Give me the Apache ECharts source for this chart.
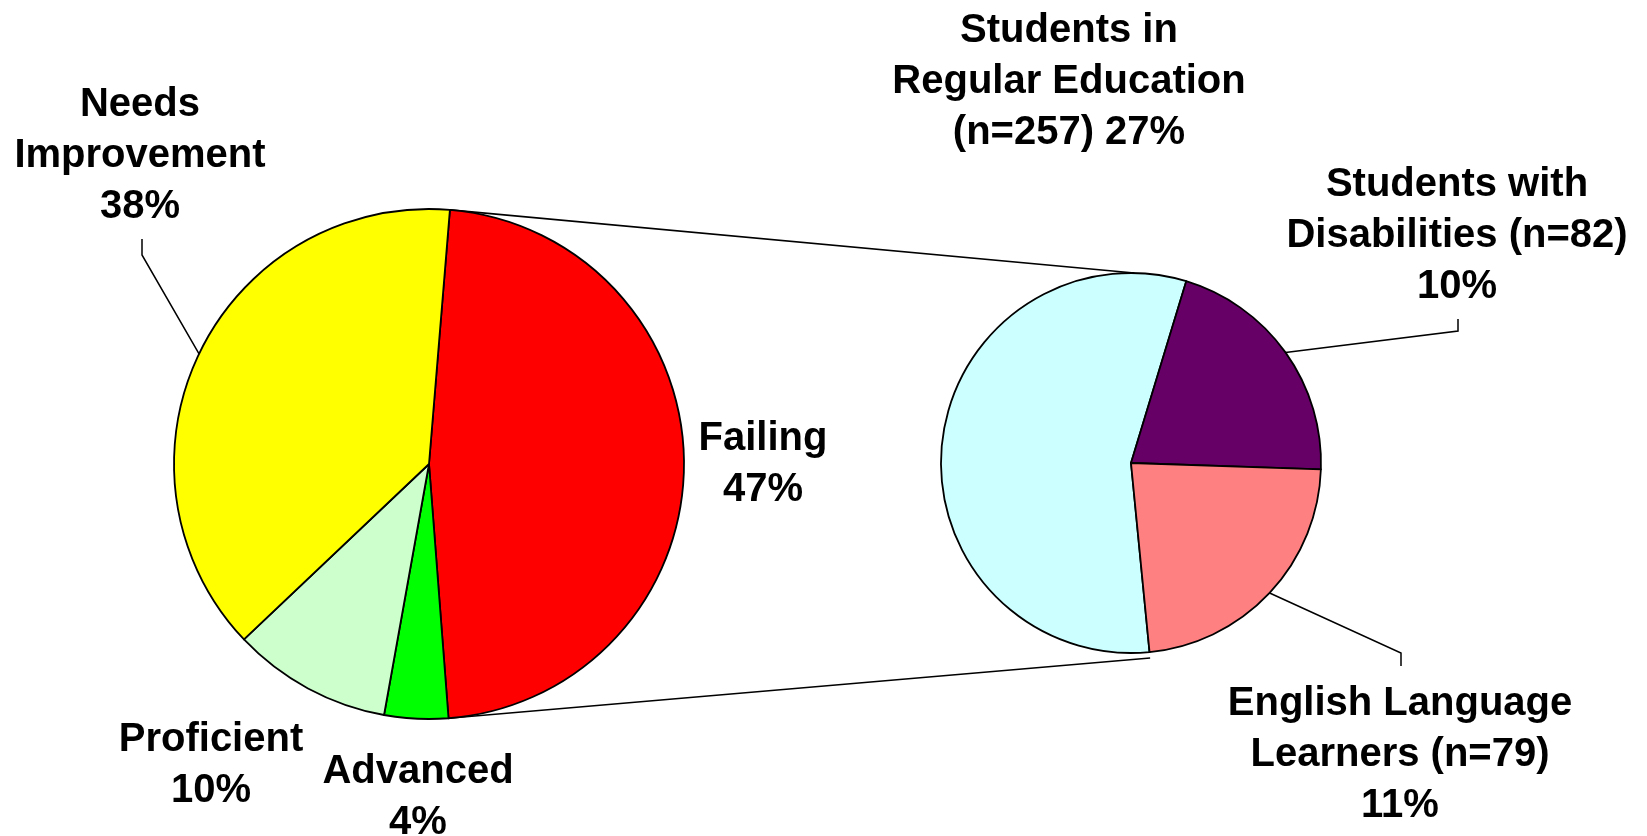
<!DOCTYPE html>
<html>
<head>
<meta charset="utf-8">
<title>Pie of pie</title>
<script src="https://cdn.jsdelivr.net/npm/echarts@6/dist/echarts.min.js"></script>
<style>
  html, body { margin: 0; padding: 0; background: #fff; }
  #main { width: 1647px; height: 836px; }
</style>
</head>
<body>
<div id="main"></div>
<script>
// overall results (left pie)
const leftNames = ["Failing", "Advanced", "Proficient", "Needs Improvement"];
const leftValues = [47, 4, 10, 38];
const leftLabels = ["Failing\n47%", "Advanced\n4%", "Proficient\n10%", "Needs\nImprovement\n38%"];
const leftColors = ["#FF0000", "#00FF00", "#CCFFCC", "#FFFF00"];

// breakdown of the failing group (right pie)
const rightNames = ["Students in Regular Education", "Students with Disabilities", "English Language Learners"];
const rightCounts = [257, 82, 79];
const rightValues = [27, 10, 11];
const rightLabels = [
  "Students in\nRegular Education\n(n=" + rightCounts[0] + ") " + rightValues[0] + "%",
  "Students with\nDisabilities (n=" + rightCounts[1] + ")\n" + rightValues[1] + "%",
  "English Language\nLearners (n=" + rightCounts[2] + ")\n" + rightValues[2] + "%"
];
const rightColors = ["#CCFFFF", "#660066", "#FF8080"];

var leftCenter = [429, 464], leftRadius = 255, leftStart = 85.3;
var rightCenter = [1131, 463], rightRadius = 190, rightStart = 275.6;

// label anchors (center of text block) and leader line bends
var leftLabelPos = [[763, 464], [418, 797], [211, 765], [140, 156]];
var leftBends = [null, null, null, [[142, 255], [142, 239]]];
var rightLabelPos = [[1069, 82], [1457, 236], [1400, 755]];
var rightBends = [null, [[1458, 331], [1458, 319]], [[1401, 653], [1401, 666]]];

var font = "'Liberation Sans', Arial, sans-serif";

function edgePoint(center, r, cwDeg) {
  var a = cwDeg * Math.PI / 180;
  return [center[0] + r * Math.sin(a), center[1] - r * Math.cos(a)];
}

function midPoint(center, r, values, start, i) {
  var total = values.reduce((s, v) => s + v, 0);
  var before = values.slice(0, i).reduce((s, v) => s + v, 0);
  var from = 90 - start + 360 * before / total;
  var to = from + 360 * values[i] / total;
  return edgePoint(center, r, (from + to) / 2);
}

function makeData(names, values, colors, labels, bends) {
  return names.map((n, i) => ({
    name: n,
    value: values[i],
    itemStyle: { color: colors[i] },
    label: { formatter: labels[i] },
    labelLine: { show: bends[i] !== null }
  }));
}

function layoutFor(pos, bends, center, r, values, start) {
  return function (params) {
    var i = params.dataIndex;
    var out = {
      x: pos[i][0],
      y: pos[i][1],
      align: "center",
      verticalAlign: "middle",
      hideOverlap: false,
      moveOverlap: false
    };
    if (bends[i]) {
      out.labelLinePoints = [midPoint(center, r, values, start, i)].concat(bends[i]);
    }
    return out;
  };
}

// connector lines from the failing slice to the second pie
var leftTotal = leftValues.reduce((s, v) => s + v, 0);
var failFrom = 90 - leftStart;
var failTo = failFrom + 360 * leftValues[0] / leftTotal;
var p1 = edgePoint(leftCenter, leftRadius, failFrom);
var p2 = edgePoint(leftCenter, leftRadius, failTo);
var q1 = edgePoint(rightCenter, rightRadius, 1);
var q2 = edgePoint(rightCenter, rightRadius + 6, 90 - rightStart + 360);

var chart = echarts.init(document.getElementById("main"));

var labelStyle = {
  show: true,
  position: "outside",
  color: "#000",
  fontFamily: font,
  fontWeight: "bold",
  fontSize: 40,
  lineHeight: 51,
  align: "center"
};
var lineStyle = { lineStyle: { color: "#000", width: 1.5 }, length: 10, length2: 10 };

chart.setOption({
  animation: false,
  backgroundColor: "#fff",
  graphic: [
    { type: "line", shape: { x1: p1[0], y1: p1[1], x2: q1[0], y2: q1[1] }, style: { stroke: "#000", lineWidth: 1.6 }, z: 0 },
    { type: "line", shape: { x1: p2[0], y1: p2[1], x2: q2[0], y2: q2[1] }, style: { stroke: "#000", lineWidth: 1.6 }, z: 0 }
  ],
  series: [
    {
      type: "pie",
      center: leftCenter,
      radius: leftRadius,
      startAngle: leftStart,
      clockwise: true,
      avoidLabelOverlap: false,
      itemStyle: { borderColor: "#000", borderWidth: 1.8 },
      emphasis: { disabled: true },
      label: labelStyle,
      labelLine: lineStyle,
      labelLayout: layoutFor(leftLabelPos, leftBends, leftCenter, leftRadius, leftValues, leftStart),
      data: makeData(leftNames, leftValues, leftColors, leftLabels, leftBends)
    },
    {
      type: "pie",
      center: rightCenter,
      radius: rightRadius,
      startAngle: rightStart,
      clockwise: true,
      avoidLabelOverlap: false,
      itemStyle: { borderColor: "#000", borderWidth: 1.8 },
      emphasis: { disabled: true },
      label: labelStyle,
      labelLine: lineStyle,
      labelLayout: layoutFor(rightLabelPos, rightBends, rightCenter, rightRadius, rightValues, rightStart),
      data: makeData(rightNames, rightValues, rightColors, rightLabels, rightBends)
    }
  ]
});
</script>
</body>
</html>
